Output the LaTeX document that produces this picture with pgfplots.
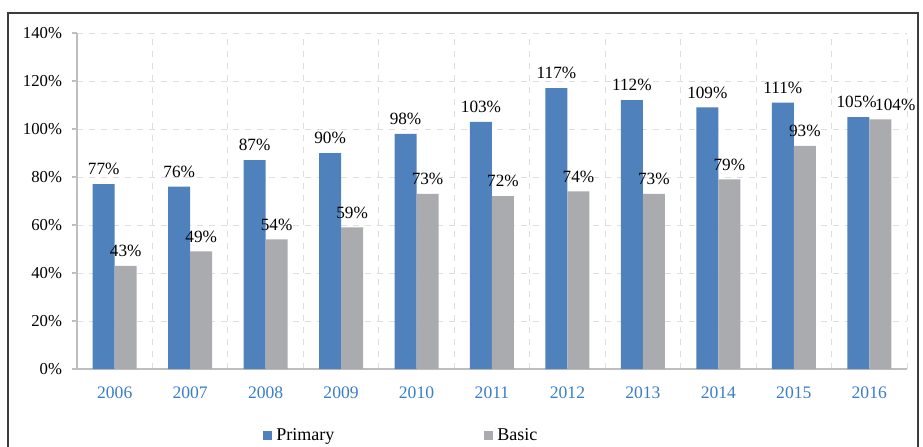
\documentclass[border=0pt]{standalone}
\usepackage{fontspec}
\setmainfont{Liberation Serif}
\usepackage{pgfplots}
\pgfplotsset{compat=1.18}
\definecolor{prim}{RGB}{79,129,189}
\definecolor{basic}{RGB}{170,171,175}
\definecolor{ticklab}{RGB}{58,125,200}
\definecolor{gridc}{RGB}{222,222,222}
\definecolor{axc}{RGB}{190,190,190}
\definecolor{framec}{RGB}{60,60,60}
\begin{document}
\begin{tikzpicture}
\useasboundingbox (0,0) rectangle (461.5pt,223pt);
\draw[line width=0.8pt, framec] (4pt,-5pt) rectangle (459pt,216.5pt);
\begin{axis}[
  at={(38.5pt,38.5pt)}, anchor=south west,
  scale only axis, width=415pt, height=168pt,
  font=\fontsize{8.35pt}{10pt}\selectfont,
  /pgf/number format/assume math mode=true,
  ybar=0pt, bar width=11pt,
  xmin=-0.5, xmax=10.5, ymin=0, ymax=140,
  enlargelimits=false, clip=false,
  axis x line=bottom, axis y line=left,
  axis line style={-, axc, line width=0.6pt},
  tick align=outside,
  ytick={0,20,...,140},
  yticklabel={\pgfmathprintnumber{\tick}\%},
  yticklabel style={xshift=-1.5pt},
  major tick length=2.5pt,
  minor tick length=2.5pt,
  ytick style={axc, line width=0.6pt},
  xtick={0,...,10},
  xticklabels={2006,2007,2008,2009,2010,2011,2012,2013,2014,2015,2016},
  xtick style={draw=none},
  minor xtick={-0.5,0.5,...,10.5},
  minor x tick style={axc, line width=0.6pt},
  xticklabel style={text=ticklab, yshift=-3pt, font=\fontsize{8.8pt}{10pt}\selectfont},
  ymajorgrids=true, xminorgrids=true,
  major grid style={gridc, dashed, line width=0.5pt},
  minor grid style={gridc, dashed, line width=0.5pt},
  nodes near coords={\pgfmathprintnumber[fixed,precision=0]{\pgfplotspointmeta}\%},
  nodes near coords style={yshift=1pt, text=black, font=\fontsize{8.6pt}{10pt}\selectfont},
  legend columns=2,
  legend style={at={(0.392,-0.199)}, anchor=center, draw=none, fill=none,
    /tikz/every even column/.append style={column sep=73pt},
    font=\fontsize{9pt}{10pt}\selectfont},
  legend image code/.code={\fill[#1,draw=none] (0pt,-2.25pt) rectangle (4.5pt,2.25pt);},
]
\addplot[fill=prim, draw=none, visualization depends on={x \as \myx},
  nodes near coords style={xshift={ifthenelse(\myx>9.5,-0.8,0)*1pt}}]
  coordinates {(0,77) (1,76) (2,87) (3,90) (4,98) (5,103) (6,117) (7,112) (8,109) (9,111) (10,105)};
\addplot[fill=basic, draw=none, visualization depends on={x \as \myx},
  nodes near coords style={xshift={ifthenelse(\myx>9.5,7.5,0)*1pt}}]
  coordinates {(0,43) (1,49) (2,54) (3,59) (4,73) (5,72) (6,74) (7,73) (8,79) (9,93) (10,104)};
\legend{Primary, Basic}
\end{axis}
\end{tikzpicture}
\end{document}
